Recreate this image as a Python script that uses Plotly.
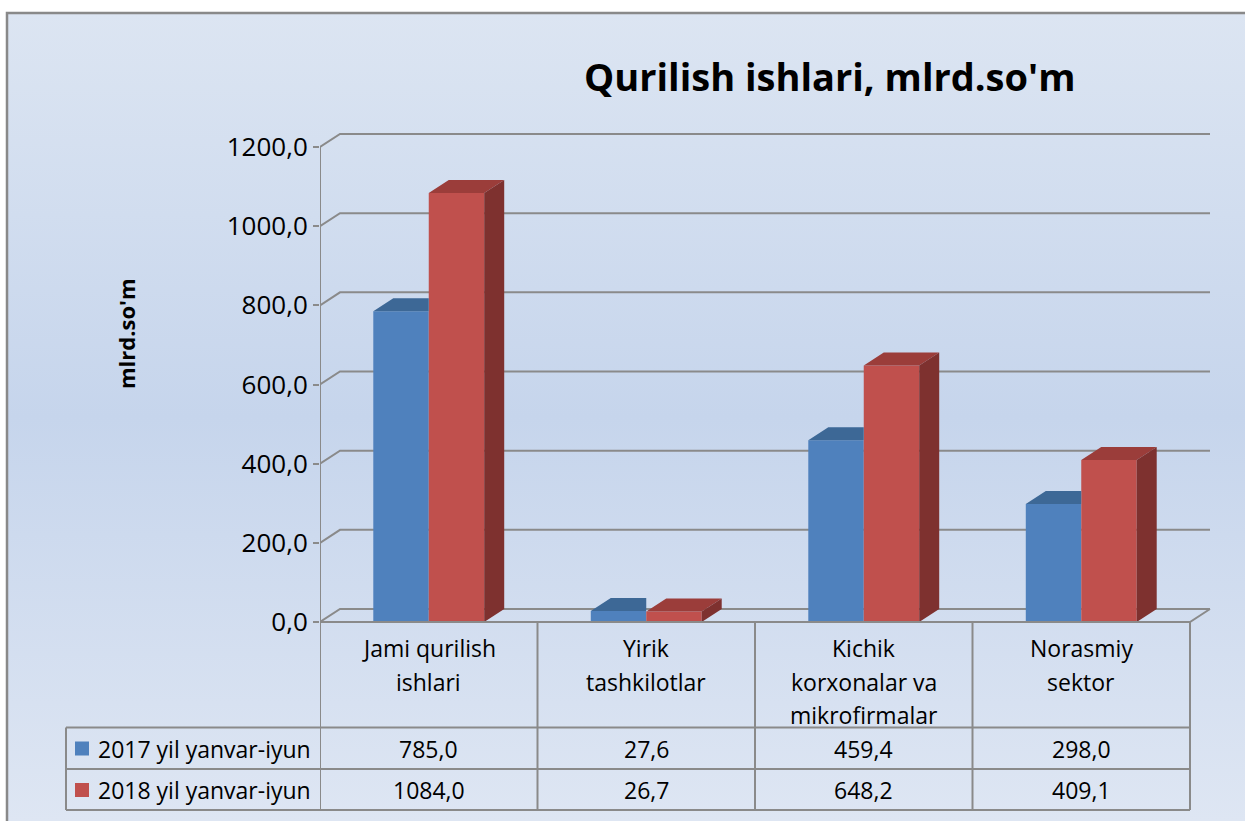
import base64
import plotly.graph_objects as go

# ---------------- data ----------------
categories = ["Jami qurilish ishlari", "Yirik tashkilotlar",
              "Kichik korxonalar va mikrofirmalar", "Norasmiy sektor"]
category_lines = [["Jami qurilish", "ishlari"],
                  ["Yirik", "tashkilotlar"],
                  ["Kichik", "korxonalar va", "mikrofirmalar"],
                  ["Norasmiy", "sektor"]]
series_names = ["2017 yil yanvar-iyun", "2018 yil yanvar-iyun"]
values_2017 = [785.0, 27.6, 459.4, 298.0]
values_2018 = [1084.0, 26.7, 648.2, 409.1]
y_ticks = [0, 200, 400, 600, 800, 1000, 1200]
title_text = "Qurilish ishlari, mlrd.so'm"
y_title = "mlrd.so'm"

# ---------------- styling / geometry ----------------
W, H = 1245, 821
FONT = "Open Sans"
front_colors = ["#4F81BD", "#C0504D"]
top_colors = ["#3D6896", "#9B3D3A"]
side_colors = ["#385D8A", "#7E312F"]
GRID = "#8A8A8A"

AX_PX = 320.0          # front y-axis pixel x
CAT_PX = 217.5         # width of one category, px
ZERO_PX = 622.0        # pixel y of value 0 (front)
PPU = 475.0 / 1200.0   # pixels per value unit
DEPTH_X_PX, DEPTH_Y_PX = 20.0, 13.0
dx = DEPTH_X_PX / CAT_PX
dy = DEPTH_Y_PX / PPU
BAR_W = 0.255

x_dom_px = (AX_PX, 1215.0)
y_dom_px = (640.0, 100.0)  # bottom, top
x_range = [-0.5, -0.5 + (x_dom_px[1] - x_dom_px[0]) / CAT_PX]
y_range = [-(y_dom_px[0] - ZERO_PX) / PPU, (ZERO_PX - y_dom_px[1]) / PPU]
n = len(categories)
x_right = n - 0.5


def px(x):
    return x / W


def py(y):
    return 1 - y / H


def fmt(v):
    return f"{v:.1f}".replace(".", ",")


fig = go.Figure()
series = [values_2017, values_2018]
offsets = [-BAR_W, 0.0]

# front faces
for s, vals in enumerate(series):
    fig.add_trace(go.Bar(
        x=list(range(n)), y=vals, name=series_names[s],
        width=BAR_W, offset=offsets[s],
        marker=dict(color=front_colors[s], line=dict(width=0)),
        showlegend=False, hoverinfo="skip"))

# 3D tops and sides
for s, vals in enumerate(series):
    tx, ty, sx, sy = [], [], [], []
    for i, v in enumerate(vals):
        x0 = i + offsets[s]
        x1 = x0 + BAR_W
        if s == 0:
            tx += [x0, x1, x1, x0 + dx, x0, None]
            ty += [v, v, v + dy, v + dy, v, None]
        else:
            tx += [x0, x1, x1 + dx, x0 + dx, x0, None]
            ty += [v, v, v + dy, v + dy, v, None]
            sx += [x1, x1, x1 + dx, x1 + dx, x1, None]
            sy += [0, v, v + dy, dy, 0, None]
    fig.add_trace(go.Scatter(x=tx, y=ty, mode="lines", fill="toself",
                             fillcolor=top_colors[s], line=dict(width=0),
                             showlegend=False, hoverinfo="skip"))
    if sx:
        fig.add_trace(go.Scatter(x=sx, y=sy, mode="lines", fill="toself",
                                 fillcolor=side_colors[s], line=dict(width=0),
                                 showlegend=False, hoverinfo="skip"))

shapes = []
# back wall + side wall gridlines
for t in y_ticks:
    shapes.append(dict(type="path", xref="x", yref="y", layer="below",
                       path=f"M {-0.5},{t} L {-0.5 + dx},{t + dy} L {x_right + dx},{t + dy}",
                       line=dict(color=GRID, width=2)))
# front axis line, floor front and right edges
shapes.append(dict(type="line", xref="x", yref="y", x0=-0.5, x1=-0.5,
                   y0=0, y1=max(y_ticks), line=dict(color=GRID, width=2), layer="below"))
shapes.append(dict(type="path", xref="x", yref="y", layer="above",
                   path=f"M {-0.5},0 L {x_right},0 L {x_right + dx},{dy}",
                   line=dict(color=GRID, width=2)))

# data table lines
row_lines_px = [727.5, 769.0, 810.0]
TABLE_LEFT_PX = 66.0
for yl in row_lines_px:
    shapes.append(dict(type="line", xref="paper", yref="paper",
                       x0=px(TABLE_LEFT_PX), x1=px(AX_PX + n * CAT_PX),
                       y0=py(yl), y1=py(yl), line=dict(color=GRID, width=2)))
shapes.append(dict(type="line", xref="paper", yref="paper",
                   x0=px(TABLE_LEFT_PX), x1=px(TABLE_LEFT_PX),
                   y0=py(row_lines_px[0]), y1=py(row_lines_px[-1]),
                   line=dict(color=GRID, width=2)))
for k in range(n + 1):
    shapes.append(dict(type="line", xref="x", yref="paper",
                       x0=k - 0.5, x1=k - 0.5,
                       y0=py(ZERO_PX), y1=py(row_lines_px[-1]),
                       line=dict(color=GRID, width=2)))

# legend keys in the table
row_centers_px = [748.5, 790.0]
for s in range(2):
    c = row_centers_px[s]
    shapes.append(dict(type="rect", xref="paper", yref="paper",
                       x0=px(75), x1=px(89), y0=py(c - 7), y1=py(c + 7),
                       fillcolor=front_colors[s], line=dict(width=0)))

# outer border
shapes.append(dict(type="rect", xref="paper", yref="paper",
                   x0=px(7), x1=1.05, y0=py(13), y1=-0.05,
                   line=dict(color="#898989", width=2.5), fillcolor="rgba(0,0,0,0)"))

TXT = 23
annotations = []
annotations.append(dict(text=f"<b>{title_text}</b>", xref="paper", yref="paper",
                        x=px(829), y=py(76), xanchor="center", yanchor="middle",
                        showarrow=False, font=dict(family=FONT, size=38, color="#000")))
annotations.append(dict(text=f"<b>{y_title}</b>", xref="paper", yref="paper",
                        x=px(126), y=py(334), xanchor="center", yanchor="middle",
                        textangle=-90, showarrow=False,
                        font=dict(family=FONT, size=22, color="#000")))
line_px = [648.0, 682.0, 715.0]
for i, lines in enumerate(category_lines):
    for j, ln in enumerate(lines):
        annotations.append(dict(text=ln, xref="x", yref="paper", x=i, y=py(line_px[j]),
                                xanchor="center", yanchor="middle", showarrow=False,
                                font=dict(family=FONT, size=TXT, color="#000")))
for s in range(2):
    annotations.append(dict(text=series_names[s], xref="paper", yref="paper",
                            x=px(96), y=py(row_centers_px[s]), xanchor="left",
                            yanchor="middle", showarrow=False,
                            font=dict(family=FONT, size=TXT, color="#000")))
    for i, v in enumerate(series[s]):
        annotations.append(dict(text=fmt(v), xref="x", yref="paper", x=i,
                                y=py(row_centers_px[s]), xanchor="center",
                                yanchor="middle", showarrow=False,
                                font=dict(family=FONT, size=TXT, color="#000")))

# gradient background image
svg = (f"<svg xmlns='http://www.w3.org/2000/svg' width='{W}' height='{H}' preserveAspectRatio='none'>"
       "<defs><linearGradient id='g' x1='0' y1='0' x2='0' y2='1'>"
       "<stop offset='0' stop-color='#DCE5F2'/>"
       "<stop offset='0.5' stop-color='#C6D5EC'/>"
       "<stop offset='1' stop-color='#DEE6F3'/>"
       "</linearGradient></defs>"
       f"<rect width='{W}' height='{H}' fill='url(#g)'/></svg>")
src = "data:image/svg+xml;base64," + base64.b64encode(svg.encode()).decode()

fig.update_layout(
    width=W, height=H,
    margin=dict(l=0, r=0, t=0, b=0),
    paper_bgcolor="white",
    plot_bgcolor="rgba(0,0,0,0)",
    separators=",.",
    showlegend=False,
    barmode="overlay",
    images=[dict(source=src, xref="paper", yref="paper", x=px(7), y=py(13),
                 sizex=1 - px(7), sizey=py(13), sizing="stretch",
                 xanchor="left", yanchor="top", layer="below")],
    shapes=shapes,
    annotations=annotations,
    xaxis=dict(domain=[px(x_dom_px[0]), px(x_dom_px[1])], range=x_range,
               visible=False, fixedrange=True),
    yaxis=dict(domain=[py(y_dom_px[0]), py(y_dom_px[1])], range=y_range,
               tickvals=y_ticks, tickformat=".1f", showgrid=False, zeroline=False,
               showline=False, ticks="outside", ticklen=6, tickwidth=2,
               tickcolor=GRID, ticklabelstandoff=0, fixedrange=True,
               tickfont=dict(family=FONT, size=26, color="#000")),
)

fig.write_html("out.html", config={"displayModeBar": False},
               post_script="document.body.style.margin='0';document.body.style.overflow='hidden';")
